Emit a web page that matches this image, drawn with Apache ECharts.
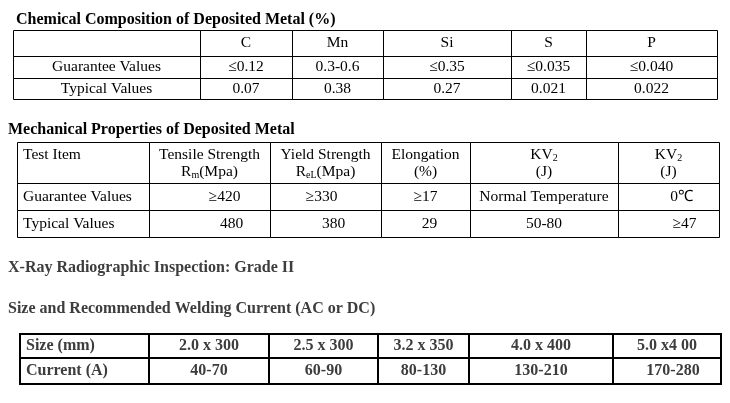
<!DOCTYPE html>
<html><head><meta charset="utf-8">
<script src="https://cdn.jsdelivr.net/npm/echarts@6/dist/echarts.min.js"></script>
<style>html,body{margin:0;padding:0;background:#fff}#c{width:730px;height:403px}</style>
</head><body><div id="c"></div>
<script>
// ---------------- Data ----------------
const chemTitle = 'Chemical Composition of Deposited Metal (%)';
const chemElements = ['C', 'Mn', 'Si', 'S', 'P'];
const chemRowLabels = ['Guarantee Values', 'Typical Values'];
const chemGuarantee = ['≤0.12', '0.3-0.6', '≤0.35', '≤0.035', '≤0.040'];
const chemTypical = ['0.07', '0.38', '0.27', '0.021', '0.022'];

const mechTitle = 'Mechanical Properties of Deposited Metal';
const mechHeaders = ['Test Item', 'Tensile Strength\nR{sub|m}(Mpa)', 'Yield Strength\nR{sub|eL}(Mpa)', 'Elongation\n(%)', 'KV{sub|2}\n(J)', 'KV{sub|2}\n(J)'];
const mechRowLabels = ['Guarantee Values', 'Typical Values'];
const mechGuarantee = ['≥420', '≥330', '≥17', 'Normal Temperature', '0℃'];
const mechTypical = ['480', '380', '29', '50-80', '≥47'];

const xrayText = 'X-Ray Radiographic Inspection: Grade II';
const sizeTitle = 'Size and Recommended Welding Current (AC or DC)';
const sizeRowLabels = ['Size (mm)', 'Current (A)'];
const sizes = ['2.0 x 300', '2.5 x 300', '3.2 x 350', '4.0 x 400', '5.0 x4 00'];
const currents = ['40-70', '60-90', '80-130', '130-210', '170-280'];

// ---------------- Layout (positions / styles) ----------------
const SERIF = "'Liberation Serif', 'Times New Roman', serif";
const BLACK = '#000000';
const GRAY = '#3d3d3d';
const chemLayout = { cols: [13, 200, 292, 383, 511, 586, 717], rows: [30, 56, 78, 99], lw: 1 };
const mechLayout = { cols: [17, 149, 270, 381, 470, 618, 719], rows: [142, 183, 210, 237], lw: 1 };
const sizeLayout = { cols: [20, 149, 269, 378, 469, 613, 721], rows: [334, 358, 384], lw: 2 };
const mechGuarShift = [15, -4, 0, 0, 13];
const mechTypShift = [22, 8, 4, 0, 16];
const currentShift = [0, 0, 0, 0, 6];
const titles = [
  { text: chemTitle, x: 16, y: 20, color: BLACK },
  { text: mechTitle, x: 8, y: 130, color: BLACK },
  { text: xrayText, x: 8, y: 268, color: GRAY },
  { text: sizeTitle, x: 8, y: 309, color: GRAY }
];

// ---------------- Build cells ----------------
function cell(c, r, text, opt) { return Object.assign({ c, r, text, align: 'center', shift: 0, size: 15.5, weight: 'normal', color: BLACK }, opt || {}); }

const chemCells = [];
chemCells.push(cell(0, 0, ''));
chemElements.forEach((t, i) => chemCells.push(cell(i + 1, 0, t)));
[chemGuarantee, chemTypical].forEach((row, r) => {
  chemCells.push(cell(0, r + 1, chemRowLabels[r]));
  row.forEach((t, i) => chemCells.push(cell(i + 1, r + 1, t)));
});

const mechCells = [];
mechHeaders.forEach((t, i) => mechCells.push(cell(i, 0, t, { align: i === 0 ? 'left' : 'center', top: 4 })));
[mechGuarantee, mechTypical].forEach((row, r) => {
  mechCells.push(cell(0, r + 1, mechRowLabels[r], { align: 'left' }));
  const sh = r === 0 ? mechGuarShift : mechTypShift;
  row.forEach((t, i) => mechCells.push(cell(i + 1, r + 1, t, { shift: sh[i] })));
});

const sizeCells = [];
[sizes, currents].forEach((row, r) => {
  const o = { size: 16, weight: 'bold', color: GRAY };
  sizeCells.push(cell(0, r, sizeRowLabels[r], Object.assign({ align: 'left' }, o)));
  row.forEach((t, i) => sizeCells.push(cell(i + 1, r, t, Object.assign({ shift: r === 1 ? currentShift[i] : 0 }, o))));
});

function tableSeries(layout, cells) {
  return {
    type: 'custom',
    coordinateSystem: 'cartesian2d',
    silent: true,
    data: cells.map(d => [layout.cols[d.c], layout.rows[d.r]]),
    renderItem: function (params, api) {
      const d = cells[params.dataIndex];
      const p0 = api.coord([layout.cols[d.c], layout.rows[d.r]]);
      const p1 = api.coord([layout.cols[d.c + 1], layout.rows[d.r + 1]]);
      const off = layout.lw % 2 ? 0.5 : 0;
      const x0 = Math.round(p0[0]), y0 = Math.round(p0[1]);
      const x1 = Math.round(p1[0]), y1 = Math.round(p1[1]);
      let tx;
      if (d.align === 'left') tx = x0 + 6; else tx = (x0 + x1) / 2 + d.shift;
      const font = { fontSize: d.size, fontFamily: SERIF, fontWeight: d.weight };
      const style = Object.assign({
        text: d.text, x: tx, y: d.top != null ? y0 + d.top : (y0 + y1) / 2,
        align: d.align, verticalAlign: d.top != null ? 'top' : 'middle',
        fill: d.color, lineHeight: 17,
        rich: { sub: { fontSize: 10, fontFamily: SERIF, fill: d.color, verticalAlign: 'bottom', lineHeight: 10 } }
      }, font);
      return {
        type: 'group',
        children: [
          { type: 'rect', shape: { x: x0 + off, y: y0 + off, width: x1 - x0, height: y1 - y0 }, style: { fill: 'none', stroke: '#000', lineWidth: layout.lw } },
          { type: 'text', style: style }
        ]
      };
    }
  };
}

const titleSeries = {
  type: 'custom',
  coordinateSystem: 'cartesian2d',
  silent: true,
  data: titles.map(t => [t.x, t.y]),
  renderItem: function (params, api) {
    const t = titles[params.dataIndex];
    const p = api.coord([t.x, t.y]);
    return { type: 'text', style: { text: t.text, x: p[0], y: p[1], align: 'left', verticalAlign: 'middle', fill: t.color, fontSize: 16, fontWeight: 'bold', fontFamily: SERIF } };
  }
};

const chart = echarts.init(document.getElementById('c'), null, { renderer: 'canvas' });
chart.setOption({
  animation: false,
  backgroundColor: '#ffffff',
  grid: { left: 0, right: 0, top: 0, bottom: 0 },
  xAxis: { type: 'value', min: 0, max: 730, show: false },
  yAxis: { type: 'value', min: 0, max: 403, inverse: true, show: false },
  series: [tableSeries(chemLayout, chemCells), tableSeries(mechLayout, mechCells), tableSeries(sizeLayout, sizeCells), titleSeries]
});
</script>
</body></html>
